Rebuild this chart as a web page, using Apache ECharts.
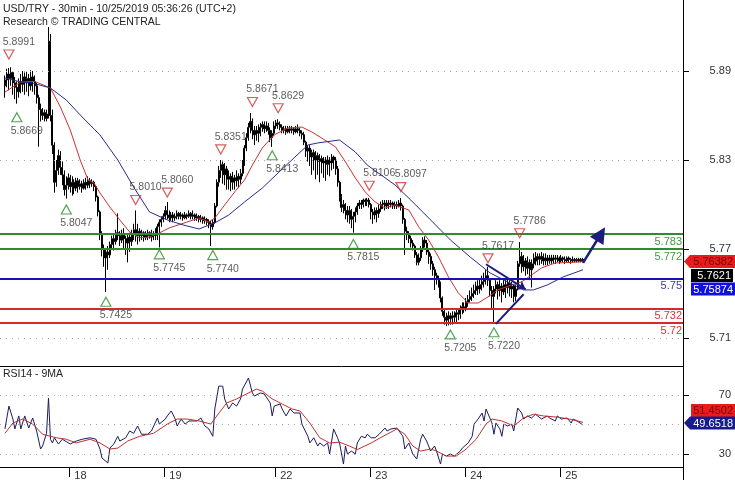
<!DOCTYPE html>
<html><head><meta charset="utf-8">
<script src="https://cdn.jsdelivr.net/npm/echarts@6/dist/echarts.min.js"></script>
<style>html,body{margin:0;padding:0;background:#fff}#c{width:735px;height:480px}</style>
</head><body><div id="c"></div>
<script>
// ---------- data ----------
const dayLabels = ['18','19','22','23','24','25'];
const dayIndex = [33,81,137,185,233,281];

const open = [
5.8800,5.8840,5.8880,5.8850,5.8890,5.8820,5.8790,5.8760,5.8830,5.8810,
5.8860,5.8820,5.8850,5.8800,5.8860,5.8830,5.8800,5.8720,5.8640,5.8600,
5.8620,5.8580,5.8610,5.9100,5.8600,5.8400,5.8150,5.8230,5.8330,5.8250,
5.8200,5.8100,5.8130,5.8180,5.8120,5.8150,5.8110,5.8160,5.8120,5.8140,
5.8110,5.8150,5.8130,5.8160,5.8140,5.8150,5.8120,5.8050,5.7950,5.7800,
5.7700,5.7640,5.7680,5.7660,5.7730,5.7770,5.7750,5.7810,5.7790,5.7760,
5.7800,5.7770,5.7740,5.7780,5.7750,5.7800,5.7830,5.7790,5.7820,5.7790,
5.7810,5.7780,5.7800,5.7790,5.7810,5.7780,5.7800,5.7790,5.7850,5.7880,
5.7900,5.7920,5.7960,5.7930,5.7910,5.7930,5.7910,5.7920,5.7940,5.7920,
5.7930,5.7910,5.7930,5.7920,5.7940,5.7920,5.7930,5.7910,5.7920,5.7900,
5.7910,5.7890,5.7900,5.7880,5.7870,5.7850,5.7880,5.7990,5.8150,5.8230,
5.8270,5.8200,5.8240,5.8170,5.8190,5.8150,5.8180,5.8160,5.8190,5.8170,
5.8210,5.8280,5.8380,5.8450,5.8520,5.8560,5.8500,5.8470,5.8500,5.8480,
5.8520,5.8540,5.8510,5.8530,5.8500,5.8450,5.8480,5.8530,5.8550,5.8540,
5.8520,5.8500,5.8510,5.8490,5.8510,5.8500,5.8510,5.8490,5.8510,5.8500,
5.8480,5.8470,5.8420,5.8360,5.8380,5.8320,5.8350,5.8300,5.8330,5.8290,
5.8310,5.8280,5.8300,5.8270,5.8300,5.8280,5.8320,5.8300,5.8240,5.8150,
5.8050,5.7980,5.8000,5.7960,5.7930,5.7960,5.7900,5.7920,5.7950,5.7990,
5.8010,5.8000,5.8030,5.8020,5.8030,5.8000,5.7950,5.7930,5.7960,5.7940,
5.7970,5.8000,5.8010,5.7990,5.8010,5.8000,5.8010,5.7990,5.8000,5.7990,
5.8010,5.7990,5.7900,5.7820,5.7800,5.7770,5.7740,5.7720,5.7660,5.7610,
5.7640,5.7700,5.7760,5.7740,5.7680,5.7650,5.7600,5.7560,5.7520,5.7500,
5.7470,5.7370,5.7280,5.7240,5.7220,5.7250,5.7230,5.7250,5.7240,5.7270,
5.7260,5.7290,5.7310,5.7300,5.7340,5.7360,5.7380,5.7400,5.7420,5.7450,
5.7430,5.7460,5.7480,5.7500,5.7520,5.7490,5.7420,5.7380,5.7430,5.7460,
5.7420,5.7450,5.7410,5.7460,5.7440,5.7470,5.7430,5.7450,5.7380,5.7430,
5.7600,5.7650,5.7580,5.7620,5.7570,5.7610,5.7560,5.7600,5.7640,5.7620,
5.7650,5.7630,5.7650,5.7620,5.7640,5.7620,5.7640,5.7620,5.7640,5.7630,
5.7640,5.7620,5.7640,5.7630,5.7620,5.7640,5.7630,5.7620,5.7630,5.7620,
5.7630,5.7620,5.7630];

const close = [
5.8840,5.8880,5.8850,5.8890,5.8820,5.8790,5.8760,5.8830,5.8810,5.8860,
5.8820,5.8850,5.8800,5.8860,5.8830,5.8800,5.8720,5.8640,5.8600,5.8620,
5.8580,5.8610,5.9100,5.8600,5.8400,5.8150,5.8230,5.8330,5.8250,5.8200,
5.8100,5.8130,5.8180,5.8120,5.8150,5.8110,5.8160,5.8120,5.8140,5.8110,
5.8150,5.8130,5.8160,5.8140,5.8150,5.8120,5.8050,5.7950,5.7800,5.7700,
5.7640,5.7680,5.7660,5.7730,5.7770,5.7750,5.7810,5.7790,5.7760,5.7800,
5.7770,5.7740,5.7780,5.7750,5.7800,5.7830,5.7790,5.7820,5.7790,5.7810,
5.7780,5.7800,5.7790,5.7810,5.7780,5.7800,5.7790,5.7850,5.7880,5.7900,
5.7920,5.7960,5.7930,5.7910,5.7930,5.7910,5.7920,5.7940,5.7920,5.7930,
5.7910,5.7930,5.7920,5.7940,5.7920,5.7930,5.7910,5.7920,5.7900,5.7910,
5.7890,5.7900,5.7880,5.7870,5.7850,5.7880,5.7990,5.8150,5.8230,5.8270,
5.8200,5.8240,5.8170,5.8190,5.8150,5.8180,5.8160,5.8190,5.8170,5.8210,
5.8280,5.8380,5.8450,5.8520,5.8560,5.8500,5.8470,5.8500,5.8480,5.8520,
5.8540,5.8510,5.8530,5.8500,5.8450,5.8480,5.8530,5.8550,5.8540,5.8520,
5.8500,5.8510,5.8490,5.8510,5.8500,5.8510,5.8490,5.8510,5.8500,5.8480,
5.8470,5.8420,5.8360,5.8380,5.8320,5.8350,5.8300,5.8330,5.8290,5.8310,
5.8280,5.8300,5.8270,5.8300,5.8280,5.8320,5.8300,5.8240,5.8150,5.8050,
5.7980,5.8000,5.7960,5.7930,5.7960,5.7900,5.7920,5.7950,5.7990,5.8010,
5.8000,5.8030,5.8020,5.8030,5.8000,5.7950,5.7930,5.7960,5.7940,5.7970,
5.8000,5.8010,5.7990,5.8010,5.8000,5.8010,5.7990,5.8000,5.7990,5.8010,
5.7990,5.7900,5.7820,5.7800,5.7770,5.7740,5.7720,5.7660,5.7610,5.7640,
5.7700,5.7760,5.7740,5.7680,5.7650,5.7600,5.7560,5.7520,5.7500,5.7470,
5.7370,5.7280,5.7240,5.7220,5.7250,5.7230,5.7250,5.7240,5.7270,5.7260,
5.7290,5.7310,5.7300,5.7340,5.7360,5.7380,5.7400,5.7420,5.7450,5.7430,
5.7460,5.7480,5.7500,5.7520,5.7490,5.7420,5.7380,5.7430,5.7460,5.7420,
5.7450,5.7410,5.7460,5.7440,5.7470,5.7430,5.7450,5.7380,5.7430,5.7600,
5.7650,5.7580,5.7620,5.7570,5.7610,5.7560,5.7600,5.7640,5.7620,5.7650,
5.7630,5.7650,5.7620,5.7640,5.7620,5.7640,5.7620,5.7640,5.7630,5.7640,
5.7620,5.7640,5.7630,5.7620,5.7640,5.7630,5.7620,5.7630,5.7620,5.7630,
5.7620,5.7630,5.7621];

const high = [
5.8870,5.8915,5.8920,5.8925,5.8900,5.8860,5.8830,5.8850,5.8880,5.8900,
5.8890,5.8895,5.8880,5.8905,5.8900,5.8870,5.8820,5.8740,5.8680,5.8650,
5.8640,5.8640,5.9197,5.9150,5.8640,5.8420,5.8300,5.8370,5.8360,5.8290,
5.8230,5.8190,5.8210,5.8200,5.8190,5.8170,5.8180,5.8180,5.8170,5.8160,
5.8170,5.8180,5.8190,5.8180,5.8170,5.8160,5.8130,5.8060,5.7960,5.7820,
5.7730,5.7700,5.7720,5.7750,5.7790,5.7800,5.7830,5.7940,5.7820,5.7830,
5.7840,5.7790,5.7800,5.7810,5.7830,5.7870,5.7960,5.7870,5.7840,5.7830,
5.7820,5.7820,5.7830,5.7820,5.7830,5.7820,5.7840,5.7870,5.7900,5.7920,
5.7940,5.7990,5.8017,5.7960,5.7950,5.7950,5.7940,5.7960,5.7950,5.7950,
5.7940,5.7950,5.7940,5.7960,5.7950,5.7960,5.7940,5.7940,5.7930,5.7930,
5.7920,5.7920,5.7910,5.7900,5.7890,5.7900,5.8010,5.8170,5.8260,5.8300,
5.8290,5.8280,5.8260,5.8230,5.8210,5.8220,5.8200,5.8230,5.8210,5.8240,
5.8300,5.8400,5.8480,5.8550,5.8617,5.8580,5.8530,5.8530,5.8540,5.8550,
5.8560,5.8560,5.8560,5.8550,5.8520,5.8500,5.8560,5.8570,5.8575,5.8560,
5.8540,5.8530,5.8530,5.8530,5.8530,5.8530,5.8520,5.8530,5.8540,5.8520,
5.8500,5.8490,5.8430,5.8400,5.8400,5.8370,5.8370,5.8360,5.8350,5.8340,
5.8330,5.8320,5.8320,5.8330,5.8320,5.8340,5.8330,5.8320,5.8260,5.8160,
5.8070,5.8030,5.8010,5.7990,5.7990,5.7970,5.7950,5.7980,5.8010,5.8030,
5.8030,5.8040,5.8040,5.8045,5.8044,5.8010,5.7970,5.7980,5.7980,5.8000,
5.8020,5.8030,5.8030,5.8030,5.8030,5.8030,5.8020,5.8020,5.8020,5.8030,
5.8044,5.8000,5.7910,5.7850,5.7820,5.7790,5.7760,5.7730,5.7680,5.7670,
5.7720,5.7780,5.7785,5.7760,5.7700,5.7670,5.7620,5.7580,5.7540,5.7520,
5.7480,5.7380,5.7300,5.7270,5.7280,5.7270,5.7280,5.7280,5.7300,5.7300,
5.7320,5.7340,5.7340,5.7370,5.7390,5.7420,5.7440,5.7460,5.7480,5.7490,
5.7500,5.7520,5.7540,5.7560,5.7580,5.7500,5.7450,5.7450,5.7490,5.7480,
5.7490,5.7470,5.7490,5.7500,5.7500,5.7490,5.7480,5.7460,5.7460,5.7620,
5.7747,5.7680,5.7660,5.7640,5.7650,5.7630,5.7630,5.7670,5.7680,5.7670,
5.7670,5.7680,5.7670,5.7670,5.7660,5.7660,5.7660,5.7660,5.7660,5.7660,
5.7650,5.7660,5.7650,5.7650,5.7650,5.7650,5.7640,5.7650,5.7640,5.7640,
5.7640,5.7640,5.7640];

const low = [
5.8720,5.8790,5.8770,5.8800,5.8740,5.8710,5.8680,5.8720,5.8750,5.8760,
5.8740,5.8760,5.8730,5.8770,5.8760,5.8740,5.8680,5.8390,5.8560,5.8570,
5.8560,5.8560,5.8580,5.8560,5.8340,5.8080,5.8120,5.8200,5.8200,5.8130,
5.8060,5.8040,5.8100,5.8080,5.8060,5.8070,5.8090,5.8080,5.8100,5.8080,
5.8100,5.8100,5.8110,5.8110,5.8120,5.8090,5.8020,5.7920,5.7760,5.7650,
5.7580,5.7410,5.7560,5.7640,5.7700,5.7690,5.7730,5.7760,5.7720,5.7740,
5.7700,5.7660,5.7610,5.7680,5.7720,5.7760,5.7750,5.7730,5.7750,5.7760,
5.7750,5.7760,5.7760,5.7770,5.7750,5.7760,5.7760,5.7760,5.7710,5.7850,
5.7880,5.7900,5.7900,5.7880,5.7890,5.7880,5.7890,5.7900,5.7900,5.7900,
5.7890,5.7900,5.7900,5.7910,5.7900,5.7900,5.7890,5.7890,5.7880,5.7880,
5.7870,5.7870,5.7860,5.7840,5.7720,5.7830,5.7870,5.7980,5.8120,5.8180,
5.8140,5.8130,5.8100,5.8100,5.8090,5.8100,5.8100,5.8120,5.8110,5.8140,
5.8190,5.8260,5.8360,5.8430,5.8480,5.8440,5.8400,5.8430,5.8420,5.8460,
5.8490,5.8480,5.8490,5.8470,5.8420,5.8388,5.8460,5.8510,5.8510,5.8500,
5.8480,5.8480,5.8470,5.8480,5.8480,5.8480,5.8470,5.8480,5.8480,5.8460,
5.8440,5.8400,5.8320,5.8290,5.8260,5.8200,5.8230,5.8170,5.8200,5.8150,
5.8210,5.8180,5.8160,5.8200,5.8190,5.8230,5.8240,5.8200,5.8120,5.8020,
5.7950,5.7940,5.7900,5.7880,5.7870,5.7840,5.7810,5.7880,5.7930,5.7970,
5.7970,5.7980,5.7990,5.7990,5.7980,5.7900,5.7870,5.7900,5.7880,5.7910,
5.7950,5.7970,5.7960,5.7970,5.7970,5.7980,5.7970,5.7970,5.7970,5.7980,
5.7960,5.7870,5.7660,5.7760,5.7740,5.7710,5.7690,5.7640,5.7590,5.7590,
5.7620,5.7680,5.7710,5.7660,5.7600,5.7560,5.7520,5.7424,5.7460,5.7440,
5.7340,5.7250,5.7190,5.7180,5.7185,5.7190,5.7190,5.7200,5.7200,5.7220,
5.7230,5.7260,5.7270,5.7280,5.7310,5.7340,5.7350,5.7370,5.7390,5.7390,
5.7400,5.7420,5.7440,5.7460,5.7450,5.7380,5.7300,5.7200,5.7400,5.7360,
5.7380,5.7340,5.7390,5.7370,5.7400,5.7380,5.7370,5.7340,5.7350,5.7420,
5.7580,5.7540,5.7550,5.7520,5.7530,5.7490,5.7440,5.7570,5.7590,5.7590,
5.7590,5.7600,5.7590,5.7590,5.7590,5.7600,5.7600,5.7600,5.7600,5.7610,
5.7600,5.7610,5.7610,5.7600,5.7610,5.7610,5.7600,5.7610,5.7610,5.7610,
5.7610,5.7610,5.7610];

// moving averages: [candle index, value]
const maRed = [[0,5.8758],[8,5.8826],[15,5.8830],[23,5.8785],[28,5.8657],[33,5.8502],[38,5.8300],[42,5.8165],[45,5.8145],[48,5.8078],[53,5.7983],[58,5.7896],[63,5.7815],[68,5.7775],[73,5.7781],[78,5.7808],[83,5.7842],[92,5.7882],[98,5.7909],[103,5.7882],[106,5.7909],[111,5.7997],[116,5.8084],[121,5.8165],[125,5.8266],[130,5.8381],[136,5.8469],[143,5.8516],[150,5.8522],[155,5.8489],[160,5.8448],[167,5.8388],[172,5.8287],[177,5.8179],[182,5.8084],[187,5.8017],[192,5.7977],[197,5.7997],[204,5.7963],[209,5.7849],[214,5.7761],[219,5.7646],[224,5.7512],[229,5.7404],[234,5.7336],[239,5.7336],[244,5.7377],[249,5.7424],[256,5.7458],[261,5.7478],[266,5.7525],[271,5.7572],[278,5.7606],[287,5.7610],[292,5.7615]];
const maBlue = [[0,5.8853],[8,5.8826],[14,5.8819],[23,5.8785],[31,5.8704],[39,5.8590],[48,5.8469],[57,5.8300],[65,5.8118],[73,5.7950],[82,5.7896],[90,5.7862],[98,5.7835],[106,5.7876],[113,5.7929],[121,5.8017],[130,5.8111],[138,5.8213],[146,5.8314],[153,5.8401],[158,5.8415],[169,5.8435],[177,5.8354],[183,5.8266],[190,5.8199],[197,5.8132],[205,5.8030],[215,5.7896],[225,5.7761],[235,5.7646],[245,5.7539],[255,5.7471],[262,5.7424],[267,5.7424],[274,5.7458],[282,5.7512],[292,5.7560]];

const rsi = [[0,47],[2,62.5],[4,53.7],[5,47],[7,55.8],[8,47],[10,55.8],[12,47.6],[14,54.4],[16,45.6],[18,33.4],[19,35.4],[21,44],[22,68],[23,40],[24,37.5],[25,41],[27,36.8],[29,40],[33,36.8],[36,38.8],[39,40],[43,41],[46,40],[48,33.4],[49,27.3],[52,23.9],[53,34],[55,36.8],[57,42],[58,38.8],[61,41],[63,45.6],[65,44],[67,49],[69,43.4],[72,43.4],[74,45.6],[77,54.4],[78,50.3],[81,53.7],[82,55.8],[84,59.2],[86,53.7],[87,49],[89,53.7],[91,50.3],[93,52.4],[97,52.4],[99,54.4],[101,49],[103,47],[105,42],[106,60.5],[108,76],[110,76],[111,67.3],[113,60.5],[115,64.6],[117,62.5],[119,67.3],[120,74],[123,81.5],[125,71.4],[126,69.3],[129,71.4],[131,70.7],[134,64.6],[135,55.8],[136,62.5],[139,63.9],[140,60.5],[142,55.8],[144,60.5],[146,57.8],[149,57.8],[150,50.3],[153,42],[154,37.5],[156,41],[158,35.4],[159,37.5],[161,35.4],[163,37.5],[164,30],[166,47],[168,41],[169,37.5],[171,23.2],[172,35.4],[173,30],[175,32],[177,30],[178,37.5],[180,42],[182,41],[183,43.4],[185,41],[187,41],[189,43.4],[192,47.6],[193,45.6],[195,47],[198,47.6],[199,47],[201,42],[202,33.4],[204,37.5],[206,30],[208,26.6],[210,40],[211,43.4],[213,38.8],[215,32],[217,35.4],[218,32],[220,23.2],[221,30],[223,28.6],[225,30],[227,28.6],[230,32],[231,34],[234,37.5],[236,42],[237,50.3],[239,53.7],[241,57.8],[242,52.4],[243,60.5],[244,60.5],[246,51],[247,43.4],[248,51],[250,47],[251,42],[252,50.3],[254,49],[256,50.3],[257,45.6],[259,61.2],[261,57.8],[262,53.7],[264,55.8],[266,54.4],[268,57],[269,55.8],[271,53.7],[274,55.8],[275,54.4],[278,52.4],[279,55.8],[281,53.7],[284,54.4],[286,51],[287,53.7],[289,52.4],[292,49.6518]];
const rsiMA = [[0,44],[4,51],[9,53.7],[14,50.3],[19,43.4],[23,42],[26,41],[31,40],[36,37.5],[43,40],[48,37.5],[53,33.4],[57,34],[62,38.8],[68,42],[75,44],[82,50.3],[87,53.7],[92,53.7],[98,52.4],[104,50.3],[107,55.8],[112,64.6],[117,67.3],[122,70.7],[127,74],[130,72.7],[135,67.3],[140,63.9],[145,60.5],[149,59.2],[154,51],[159,41],[164,37.5],[169,38],[174,35.4],[178,33],[185,37.5],[191,42],[198,47],[202,43.4],[206,35.4],[210,32],[215,33.4],[218,32],[223,28.6],[228,28.6],[233,33.4],[238,40],[243,50.3],[246,53.7],[251,52.4],[257,49],[262,54.4],[267,57],[272,55.8],[279,55],[285,53.7],[292,51.4502]];

const priceTicks = [5.71, 5.77, 5.83, 5.89];
const rsiTicks = [30, 70];
const rsiGrid = [30, 50, 70];
const levels = [5.783, 5.772, 5.75, 5.732, 5.72];
const levelText = ['5.783', '5.772', '5.75', '5.732', '5.72'];
const pivotHighs = [[2,5.8991],[66,5.8010],[82,5.8060],[109,5.8351],[125,5.8671],[138,5.8629],[184,5.8106],[200,5.8097],[244,5.7617],[260,5.7786]];
const pivotLows = [[6,5.8669],[31,5.8047],[51,5.7425],[78,5.7745],[105,5.7740],[135,5.8413],[176,5.7815],[225,5.7205],[247,5.7220]];
const trendUpper = [[243,5.7597],[263,5.7428]];
const trendLower = [[248,5.7195],[262,5.7395]];
const forecast = [[292,5.7606],[301,5.7801]];
const lastClose = '5.7621', lastMaRed = '5.76382', lastMaBlue = '5.75874';
const lastRsi = '49.6518', lastRsiMA = '51.4502';

// ---------- layout / style ----------
const FONT = '"Liberation Sans", Arial, sans-serif';
const PAD = 2, TOTAL = 345;
const cats = Array.from({length: TOTAL}, (_, j) => 'c' + j);
const sh = arr => arr.map(p => [p[0] + PAD, p[1]]);
const candles = cats.map((_, j) => {
  const i = j - PAD;
  return (i >= 0 && i < open.length) ? [open[i], close[i], low[i], high[i]] : '-';
});
const daySet = new Map(dayIndex.map((d, k) => [d + PAD, dayLabels[k]]));

const levelColor = ['#2e8b2e', '#2e8b2e', '#1414b4', '#d42a2a', '#d42a2a'];
const levelLabelColor = ['#3f9a3f', '#3f9a3f', '#3a3aa6', '#cc3a3a', '#cc3a3a'];
const NAVY = '#1c1c7e';

const chart = echarts.init(document.getElementById('c'), null, {renderer: 'canvas'});
const dotted = {color: '#a8a8a8', type: [1, 5], width: 1};

chart.setOption({
  animation: false,
  backgroundColor: '#fff',
  title: [
    {text: 'USD/TRY - 30min - 10/25/2019 05:36:26 (UTC+2)', subtext: 'Research © TRADING CENTRAL',
     left: 3, top: 3, itemGap: 0, padding: 0,
     textStyle: {fontSize: 10.5, fontWeight: 'normal', color: '#222', fontFamily: FONT, lineHeight: 13},
     subtextStyle: {fontSize: 10.5, color: '#222', fontFamily: FONT, lineHeight: 13}},
    {text: 'RSI14 - 9MA', left: 3, top: 369, padding: 0,
     textStyle: {fontSize: 10.5, fontWeight: 'normal', color: '#222', fontFamily: FONT}}
  ],
  grid: [
    {left: 0, right: 52, top: 0, height: 366, outerBoundsMode: 'none', containLabel: false},
    {left: 0, right: 52, top: 366, height: 101, outerBoundsMode: 'none', containLabel: false}
  ],
  xAxis: [
    {gridIndex: 0, type: 'category', data: cats, boundaryGap: true,
     axisLine: {show: true, lineStyle: {color: '#000', width: 1}},
     axisTick: {show: false}, axisLabel: {show: false}, splitLine: {show: false}},
    {gridIndex: 1, type: 'category', data: cats, boundaryGap: true,
     axisLine: {show: true, lineStyle: {color: '#000', width: 1}},
     axisTick: {show: true, length: 10, interval: (idx) => daySet.has(idx), lineStyle: {color: '#000'}},
     axisLabel: {show: true, interval: (idx) => daySet.has(idx),
       formatter: (v, idx) => daySet.get(idx) || '', align: 'left', padding: [0, 0, 0, 4], margin: 3,
       fontSize: 11, color: '#333', fontFamily: FONT},
     splitLine: {show: false}}
  ],
  yAxis: [
    {gridIndex: 0, type: 'value', position: 'right', min: 5.69112, max: 5.93787,
     axisLine: {show: true, lineStyle: {color: '#000', width: 1}},
     axisTick: {show: true, customValues: priceTicks, length: 6, lineStyle: {color: '#000'}},
     axisLabel: {show: true, customValues: priceTicks, formatter: v => v.toFixed(2), align: 'right', margin: 48,
       fontSize: 11, color: '#333', fontFamily: FONT},
     splitLine: {show: false}},
    {gridIndex: 1, type: 'value', position: 'right', min: 21.19, max: 89.66,
     axisLine: {show: true, lineStyle: {color: '#000', width: 1}},
     axisTick: {show: true, customValues: rsiTicks, length: 6, lineStyle: {color: '#000'}},
     axisLabel: {show: true, customValues: rsiTicks, formatter: v => String(Math.round(v)), align: 'right', margin: 48,
       fontSize: 11, color: '#333', fontFamily: FONT},
     splitLine: {show: false}}
  ],
  series: [
    {type: 'line', xAxisIndex: 0, yAxisIndex: 0, data: [], silent: true, z: 1,
     markLine: {silent: true, symbol: 'none', label: {show: false}, lineStyle: dotted,
       data: priceTicks.map(v => ({yAxis: v}))}},
    {type: 'candlestick', xAxisIndex: 0, yAxisIndex: 0, data: candles, barWidth: 1.5, z: 2,
     itemStyle: {color: '#fff', color0: '#000', borderColor: '#000', borderColor0: '#000', borderColorDoji: '#000', borderWidth: 1}},
    {type: 'line', xAxisIndex: 0, yAxisIndex: 0, data: [], silent: true, z: 3,
     markLine: {silent: true, symbol: 'none',
       data: levels.map((v, k) => ({yAxis: v,
         lineStyle: {color: levelColor[k], width: 2, type: 'solid'},
         label: {show: true, position: 'insideEndBottom', distance: [1, 2], formatter: levelText[k],
           color: levelLabelColor[k], fontSize: 11, fontFamily: FONT}}))}},
    {type: 'line', xAxisIndex: 0, yAxisIndex: 0, data: sh(maRed), showSymbol: false, z: 4,
     lineStyle: {color: '#c83232', width: 1}},
    {type: 'line', xAxisIndex: 0, yAxisIndex: 0, data: sh(maBlue), showSymbol: false, z: 4,
     lineStyle: {color: '#2a2a8c', width: 1}},
    {type: 'scatter', xAxisIndex: 0, yAxisIndex: 0, data: sh(pivotHighs), z: 6,
     symbol: 'path://M0,0 L10,0 L5,9 Z', symbolSize: [10, 9], symbolOffset: [0, -3],
     itemStyle: {color: 'rgba(0,0,0,0)', borderColor: '#d03434', borderWidth: 1.2},
     label: {show: true, position: 'top', distance: 2, offset: [10, 0], formatter: p => p.value[1].toFixed(4),
       color: '#333', fontSize: 10.5, fontFamily: FONT}},
    {type: 'scatter', xAxisIndex: 0, yAxisIndex: 0, data: sh(pivotLows), z: 6,
     symbol: 'path://M5,0 L10,9 L0,9 Z', symbolSize: [10, 9], symbolOffset: [0, 12],
     itemStyle: {color: 'rgba(0,0,0,0)', borderColor: '#2e8b2e', borderWidth: 1.2},
     label: {show: true, position: 'bottom', distance: 3, offset: [10, 0], formatter: p => p.value[1].toFixed(4),
       color: '#333', fontSize: 10.5, fontFamily: FONT}},
    {type: 'line', xAxisIndex: 0, yAxisIndex: 0, data: [], silent: true, z: 7,
     markLine: {silent: true, label: {show: false}, lineStyle: {color: NAVY, width: 2, type: 'solid'},
       data: [
         [{coord: [trendUpper[0][0] + PAD, trendUpper[0][1]], symbol: 'none'},
          {coord: [trendUpper[1][0] + PAD, trendUpper[1][1]], symbol: 'arrow', symbolSize: 8}],
         [{coord: [trendLower[0][0] + PAD, trendLower[0][1]], symbol: 'none'},
          {coord: [trendLower[1][0] + PAD, trendLower[1][1]], symbol: 'none'}],
         [{coord: [forecast[0][0] + PAD, forecast[0][1]], symbol: 'none', lineStyle: {width: 2.5, curveness: -0.4}},
          {coord: [forecast[1][0] + PAD, forecast[1][1]], symbol: 'triangle', symbolSize: 16}]
       ]}},
    // RSI pane
    {type: 'line', xAxisIndex: 1, yAxisIndex: 1, data: [], silent: true, z: 1,
     markLine: {silent: true, symbol: 'none', label: {show: false}, lineStyle: dotted,
       data: rsiGrid.map(v => ({yAxis: v}))}},
    {type: 'line', xAxisIndex: 1, yAxisIndex: 1, data: sh(rsi), showSymbol: false, z: 3,
     lineStyle: {color: '#1c1c5e', width: 1}},
    {type: 'line', xAxisIndex: 1, yAxisIndex: 1, data: sh(rsiMA), showSymbol: false, z: 4,
     lineStyle: {color: '#c03030', width: 1}}
  ]
});

// value tags on the right axis
function tag(cy, x0, x1, fill, text, tc, arrow) {
  const h = 13, t = cy - h / 2, b = cy + h / 2;
  const pts = arrow ? [[x0, cy], [x0 + 6, t], [x1, t], [x1, b], [x0 + 6, b]] : [[x0, t], [x1, t], [x1, b], [x0, b]];
  return [
    {type: 'polygon', shape: {points: pts}, style: {fill: fill}, z: 100},
    {type: 'text', x: x1 - 2, y: cy + 0.5, z: 101,
     style: {text: text, fill: tc, font: '11px ' + FONT, align: 'right', verticalAlign: 'middle'}}
  ];
}
const pyMain = v => chart.convertToPixel({yAxisIndex: 0}, v);
const pyRsi = v => chart.convertToPixel({yAxisIndex: 1}, v);
const cyRed = pyMain(maRed[maRed.length - 1][1]);
const cyBlack = cyRed + 14;
const cyBlue = cyBlack + 13.5;
const cyRsiBlue = pyRsi(rsi[rsi.length - 1][1]) - 2;
const cyRsiRed = cyRsiBlue - 12.5;
chart.setOption({
  graphic: [
    {type: 'line', shape: {x1: 683.5, y1: 467, x2: 683.5, y2: 480}, style: {stroke: '#000', lineWidth: 1}},
    ...tag(cyRed, 684, 735, '#e81c1c', lastMaRed, '#7a0000', true),
    ...tag(cyBlack, 691, 733, '#000', lastClose, '#fff', false),
    ...tag(cyBlue, 691, 735, '#1010e0', lastMaBlue, '#fff', false),
    ...tag(cyRsiRed, 691, 735, '#e81c1c', lastRsiMA, '#7a0000', false),
    ...tag(cyRsiBlue, 684, 735, '#1a1a8e', lastRsi, '#fff', true)
  ]
});
</script>
</body></html>
